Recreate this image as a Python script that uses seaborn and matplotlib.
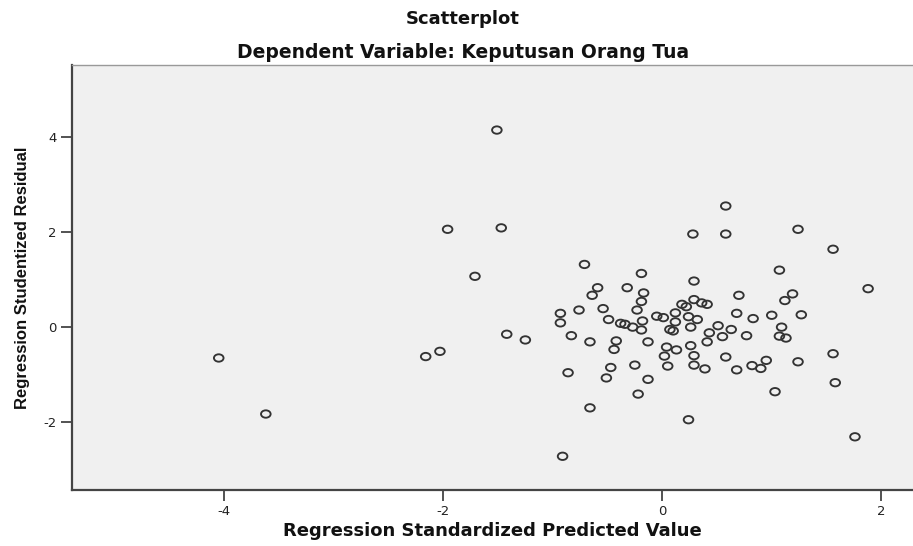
import matplotlib
matplotlib.use("Agg")
import matplotlib.pyplot as plt
from matplotlib.path import Path
from matplotlib.transforms import Affine2D
import seaborn as sns
import pandas as pd

# Regression Standardized Predicted Value
predicted = [
    -4.05, -3.62, -2.16, -2.03, -1.96, -1.71, -1.51, -1.47, -1.42, -1.25,
    -0.93, -0.93, -0.91, -0.86, -0.83, -0.76, -0.71, -0.66, -0.66, -0.64,
    -0.59, -0.54, -0.51, -0.49, -0.47, -0.44, -0.42, -0.38, -0.34, -0.32,
    -0.27, -0.25, -0.23, -0.22, -0.19, -0.19, -0.17, -0.18, -0.19, -0.13,
    -0.13, -0.05, 0.01, 0.02, 0.04, 0.05, 0.07, 0.10, 0.12, 0.12,
    0.13, 0.18, 0.22, 0.24, 0.24, 0.26, 0.26, 0.28, 0.29, 0.29,
    0.29, 0.29, 0.32, 0.36, 0.39, 0.41, 0.41, 0.43, 0.51, 0.55,
    0.58, 0.58, 0.58, 0.63, 0.68, 0.68, 0.70, 0.77, 0.82, 0.83,
    0.90, 0.95, 1.00, 1.03, 1.07, 1.07, 1.09, 1.12, 1.13, 1.19,
    1.24, 1.24, 1.27, 1.56, 1.56, 1.58, 1.76, 1.88,
]
# Regression Studentized Residual
residual = [
    -0.65, -1.83, -0.62, -0.51, 2.06, 1.07, 4.15, 2.09, -0.15, -0.27,
    0.29, 0.09, -2.72, -0.96, -0.18, 0.36, 1.32, -0.31, -1.70, 0.67,
    0.83, 0.39, -1.07, 0.16, -0.85, -0.47, -0.29, 0.08, 0.06, 0.83,
    0.00, -0.80, 0.36, -1.41, 1.13, 0.54, 0.72, 0.13, -0.06, -0.31,
    -1.10, 0.23, 0.20, -0.61, -0.42, -0.82, -0.05, -0.08, 0.30, 0.11,
    -0.48, 0.48, 0.43, 0.22, -1.95, 0.00, -0.39, 1.96, 0.97, 0.58,
    -0.60, -0.80, 0.16, 0.51, -0.88, 0.48, -0.31, -0.12, 0.03, -0.20,
    2.55, 1.96, -0.63, -0.05, 0.29, -0.90, 0.67, -0.18, -0.81, 0.18,
    -0.87, -0.70, 0.25, -1.36, 1.20, -0.19, 0.00, 0.56, -0.23, 0.70,
    2.06, -0.73, 0.26, 1.64, -0.56, -1.17, -2.31, 0.81,
]
x_ticks = [-4, -2, 0, 2]
y_ticks = [-2, 0, 2, 4]

title = "Scatterplot"
subtitle = "Dependent Variable: Keputusan Orang Tua"
x_label = "Regression Standardized Predicted Value"
y_label = "Regression Studentized Residual"

df = pd.DataFrame({"pred": predicted, "resid": residual})

sns.set_theme(style="white")
plt.rcParams["font.family"] = ["DejaVu Sans"]

W, H = 913, 546
fig = plt.figure(figsize=(W / 100, H / 100), dpi=100)
fig.patch.set_facecolor("white")
left, right, top, bottom = 72, 913, 65, 490
ax = fig.add_axes([left / W, 1 - bottom / H, (right - left) / W, (bottom - top) / H])
ax.set_facecolor("#F0F0F0")

# slightly wide open ellipse marker (the reference is horizontally stretched)
ellipse = Path.unit_circle().transformed(Affine2D().scale(1.3, 1.0))

sns.scatterplot(data=df, x="pred", y="resid", ax=ax, s=48,
                facecolors="none", edgecolor="#333333", linewidth=1.35,
                marker=ellipse, zorder=3)

ax.set_xlim(-5.39, 2.29)
ax.set_ylim(-3.43, 5.52)
ax.set_xticks(x_ticks)
ax.set_yticks(y_ticks)
ax.set_xticklabels([str(v) for v in x_ticks])
ax.set_yticklabels([str(v) for v in y_ticks])
ax.tick_params(axis="both", direction="out", length=8, width=1.3,
               color="#444444", labelsize=9.5, labelcolor="#222222",
               bottom=True, left=True, pad=3)

for side in ["left", "bottom"]:
    ax.spines[side].set_color("#444444")
    ax.spines[side].set_linewidth(1.6)
ax.spines["top"].set_color("#999999")
ax.spines["top"].set_linewidth(1.0)
ax.spines["right"].set_visible(False)

ax.set_xlabel(x_label, fontsize=13, fontweight="bold", color="#111111", labelpad=3)
ax.set_ylabel(y_label, fontsize=12, fontweight="bold", color="#111111",
              labelpad=10, family=["Liberation Sans", "DejaVu Sans"])

fig.text(463 / W, 1 - 19 / H, title, ha="center", va="center",
         fontsize=13, fontweight="bold", color="#111111")
fig.text(463 / W, 1 - 52 / H, subtitle, ha="center", va="center",
         fontsize=13.5, fontweight="bold", color="#111111")

fig.savefig("out.png", dpi=100)
